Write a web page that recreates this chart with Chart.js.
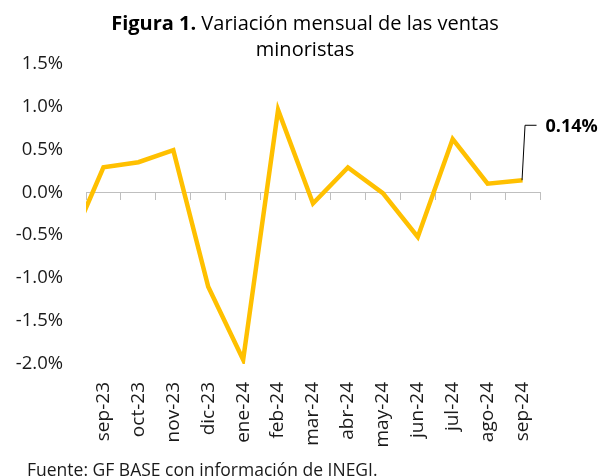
<!DOCTYPE html>
<html>
<head>
<meta charset="utf-8">
<script src="https://cdn.jsdelivr.net/npm/chart.js@4/dist/chart.umd.min.js"></script>
<style>
html,body{margin:0;padding:0;background:#fff;}
#wrap{width:608px;height:476px;position:relative;}
</style>
</head>
<body>
<div id="wrap"><canvas id="c" width="608" height="476"></canvas></div>
<script>
// ---- data ----
const categories = ['ago-23','sep-23','oct-23','nov-23','dic-23','ene-24','feb-24','mar-24','abr-24','may-24','jun-24','jul-24','ago-24','sep-24'];
const firstShown = 'sep-23';
const values = [-0.65, 0.29, 0.35, 0.49, -1.10, -1.95, 0.96, -0.13, 0.29, -0.01, -0.52, 0.62, 0.10, 0.14];
const yMin = -2.0, yMax = 1.5, yStep = 0.5;
const titleBold = 'Figura 1.';
const titleRest = ' Variación mensual de las ventas';
const titleLine2 = 'minoristas';
const footerText = 'Fuente: GF BASE con información de INEGI.';
const lastLabel = '0.14%';

const FONT = '"Open Sans", "Noto Sans", sans-serif';
const TEXT = '#1a1a1a';

const overlay = {
  id: 'overlay',
  afterDraw(chart) {
    const ctx = chart.ctx;
    ctx.save();
    ctx.fillStyle = '#000';
    ctx.textBaseline = 'alphabetic';
    const fb = 'bold 20px ' + FONT, fr = '20px ' + FONT;
    ctx.font = fb; const wb = ctx.measureText(titleBold).width;
    ctx.font = fr; const wr = ctx.measureText(titleRest).width;
    const cx = 305;
    const x0 = cx - (wb + wr) / 2;
    ctx.textAlign = 'left';
    ctx.font = fb; ctx.fillText(titleBold, x0, 29.5);
    ctx.font = fr; ctx.fillText(titleRest, x0 + wb, 29.5);
    ctx.textAlign = 'center';
    ctx.fillText(titleLine2, cx, 55.5);

    // footer
    ctx.textAlign = 'left';
    ctx.fillStyle = TEXT;
    ctx.font = '17.5px ' + FONT;
    ctx.fillText(footerText, 27, 475.5);

    // last data label with leader line
    const meta = chart.getDatasetMeta(0);
    const pt = meta.data[meta.data.length - 1];
    ctx.strokeStyle = '#000';
    ctx.lineWidth = 1;
    ctx.beginPath();
    ctx.moveTo(pt.x - 0.5, pt.y);
    ctx.lineTo(pt.x + 2.5, pt.y - 55);
    ctx.lineTo(pt.x + 14, pt.y - 55);
    ctx.stroke();
    ctx.fillStyle = '#000';
    ctx.font = 'bold 18px ' + FONT;
    ctx.textBaseline = 'middle';
    ctx.fillText(lastLabel, pt.x + 23, pt.y - 53);
    ctx.restore();
  }
};

new Chart(document.getElementById('c'), {
  type: 'line',
  data: {
    labels: categories,
    datasets: [{
      data: values,
      xAxisID: 'x',
      yAxisID: 'y',
      borderColor: '#FFC000',
      backgroundColor: '#FFC000',
      borderWidth: 4.5,
      pointRadius: 0,
      pointHoverRadius: 0,
      tension: 0,
      fill: false
    }]
  },
  options: {
    responsive: false,
    animation: false,
    events: [],
    layout: { padding: { top: 63.5, right: 68, left: 0, bottom: 0 } },
    plugins: { legend: { display: false }, title: { display: false }, tooltip: { enabled: false } },
    scales: {
      x: {
        type: 'category',
        min: firstShown,
        offset: true,
        position: 'bottom',
        grid: { display: false, drawTicks: false },
        border: { display: false },
        ticks: {
          autoSkip: false,
          minRotation: 90,
          maxRotation: 90,
          padding: 18,
          color: TEXT,
          font: { family: FONT, size: 19 }
        },
        afterFit(s) { s.height = 112; }
      },
      x2: {
        type: 'category',
        min: firstShown,
        offset: true,
        position: { y: 0 },
        grid: { drawOnChartArea: false, drawTicks: true, tickLength: 7, offset: true, color: '#bfbfbf', lineWidth: 1 },
        border: { display: true, color: '#bfbfbf', width: 1 },
        ticks: { display: false }
      },
      y: {
        min: yMin,
        max: yMax,
        grid: { display: false, drawTicks: false },
        border: { display: false },
        ticks: {
          stepSize: yStep,
          padding: 23,
          color: TEXT,
          font: { family: FONT, size: 18.5 },
          callback: v => v.toFixed(1) + '%'
        },
        afterFit(s) { s.width = 86; }
      }
    }
  },
  plugins: [overlay]
});
</script>
</body>
</html>
